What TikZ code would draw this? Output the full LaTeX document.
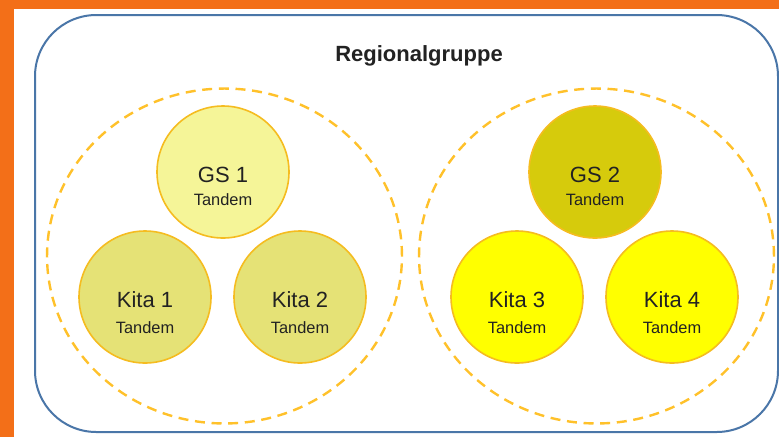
\documentclass[tikz,border=0pt]{standalone}
\usepackage{fontspec}
\setmainfont{Liberation Sans}
\definecolor{orangeframe}{HTML}{F36F18}
\definecolor{boxblue}{HTML}{4A76A8}
\definecolor{dashgold}{HTML}{FFC12A}
\definecolor{ringgold}{HTML}{F5BC20}
\definecolor{paleyellow}{HTML}{F5F598}
\definecolor{midyellow}{HTML}{E5E276}
\definecolor{oliveyellow}{HTML}{D6CB0C}
\definecolor{brightyellow}{HTML}{FFFF00}
\definecolor{textdark}{HTML}{222222}
\tikzset{
  member/.style={circle, draw=ringgold, line width=1.2pt, minimum size=99pt, inner sep=0pt},
  group/.style={draw=dashgold, line width=1.8pt, dash pattern=on 7.5pt off 5pt},
  bigline/.style={font=\fontsize{16.5}{19}\selectfont, text=textdark, anchor=base, inner sep=0pt},
  smallline/.style={font=\fontsize{12.3}{15}\selectfont, text=textdark, anchor=base, inner sep=0pt},
}
\begin{document}
\begin{tikzpicture}[x=0.75pt,y=-0.75pt]
\useasboundingbox (0,0) rectangle (779,437);
\fill[white] (0,0) rectangle (779,437);
\fill[orangeframe] (0,0) rectangle (14,437);
\fill[orangeframe] (0,0) rectangle (779,9);
\draw[boxblue, line width=1.5pt, rounded corners=46pt] (35,15) rectangle (778,432);
\node[font=\bfseries\fontsize{16.5}{19}\selectfont, text=textdark, anchor=base, inner sep=0pt] (title) at (419,61) {Regionalgruppe};
\draw[group] (224.5,256) ellipse [x radius=133.1pt, y radius=125.6pt];
\draw[group] (596.5,256) ellipse [x radius=133.1pt, y radius=125.6pt];
% left group
\node[member, fill=paleyellow] (gs1) at (223,172) {};
\node[bigline] (gs1a) at (223,182) {GS 1};
\node[smallline] (gs1b) at (223,205) {Tandem};
\node[member, fill=midyellow] (kita1) at (145,297) {};
\node[bigline] (kita1a) at (145,307) {Kita 1};
\node[smallline] (kita1b) at (145,333) {Tandem};
\node[member, fill=midyellow] (kita2) at (300,297) {};
\node[bigline] (kita2a) at (300,307) {Kita 2};
\node[smallline] (kita2b) at (300,333) {Tandem};
% right group
\node[member, fill=oliveyellow] (gs2) at (595,172) {};
\node[bigline] (gs2a) at (595,182) {GS 2};
\node[smallline] (gs2b) at (595,205) {Tandem};
\node[member, fill=brightyellow] (kita3) at (517,297) {};
\node[bigline] (kita3a) at (517,307) {Kita 3};
\node[smallline] (kita3b) at (517,333) {Tandem};
\node[member, fill=brightyellow] (kita4) at (672,297) {};
\node[bigline] (kita4a) at (672,307) {Kita 4};
\node[smallline] (kita4b) at (672,333) {Tandem};
\end{tikzpicture}
\end{document}
